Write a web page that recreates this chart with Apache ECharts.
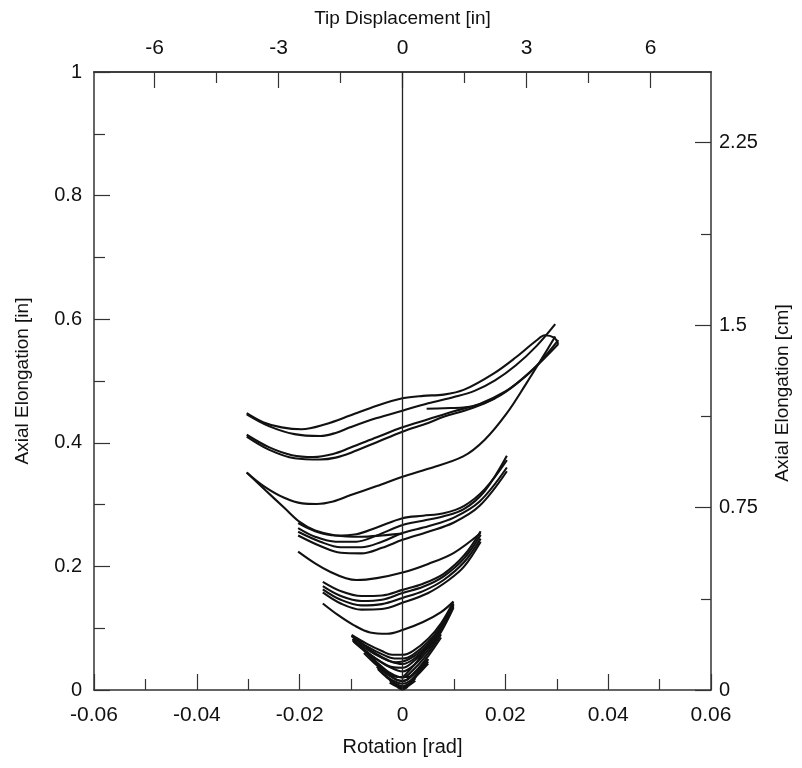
<!DOCTYPE html>
<html>
<head>
<meta charset="utf-8">
<script src="https://cdn.jsdelivr.net/npm/echarts@6/dist/echarts.min.js"></script>
<style>
  html, body { margin: 0; padding: 0; background: #fff; }
  #chart { width: 802px; height: 768px; }
</style>
</head>
<body>
<div id="chart"></div>
<script>
// Rotation [rad] vs axial elongation [in], one polyline per half-cycle, grouped by amplitude.
const loops030 = [
  [[-0.0303,0.448],[-0.027,0.433],[-0.0235,0.425],[-0.0196,0.422],[-0.015,0.430],[-0.0102,0.444],[-0.005,0.460],[0,0.472],[0.004,0.476],[0.008,0.478],[0.012,0.486],[0.0177,0.512],[0.022,0.538],[0.0261,0.566],[0.0277,0.574],[0.0295,0.570],[0.0303,0.560]],
  [[-0.0303,0.446],[-0.026,0.427],[-0.021,0.414],[-0.016,0.411],[-0.013,0.416],[-0.0102,0.425],[-0.005,0.440],[0,0.452],[0.005,0.464],[0.010,0.474],[0.014,0.484],[0.018,0.501],[0.022,0.525],[0.026,0.556],[0.0297,0.592]],
  [[-0.0303,0.413],[-0.026,0.393],[-0.0215,0.380],[-0.0173,0.377],[-0.0135,0.382],[-0.0102,0.392],[-0.005,0.409],[0,0.425],[0.005,0.438],[0.010,0.451],[0.015,0.463],[0.020,0.483],[0.024,0.508],[0.027,0.533],[0.0303,0.566]],
  [[-0.0303,0.410],[-0.026,0.389],[-0.021,0.375],[-0.016,0.373],[-0.013,0.376],[-0.010,0.384],[-0.005,0.401],[0,0.418],[0.005,0.432],[0.008,0.442],[0.012,0.452],[0.016,0.464],[0.020,0.482],[0.025,0.516],[0.0303,0.560]],
  [[0.0047,0.455],[0.008,0.456],[0.0118,0.457],[0.015,0.462],[0.018,0.472]],
  [[-0.0303,0.352],[-0.027,0.330],[-0.023,0.311],[-0.0195,0.302],[-0.0167,0.301],[-0.0135,0.305],[-0.0102,0.315],[-0.005,0.330],[0,0.345],[0.005,0.358],[0.0118,0.378],[0.016,0.405],[0.0203,0.448],[0.024,0.495],[0.027,0.535],[0.0297,0.572]],
  [[-0.0303,0.352],[-0.0265,0.322],[-0.023,0.295],[-0.020,0.272],[-0.017,0.258],[-0.013,0.250],[-0.008,0.248],[-0.004,0.250],[0,0.253]]
];

const loops020 = [
  [[-0.0203,0.270],[-0.017,0.257],[-0.013,0.250],[-0.009,0.252],[-0.005,0.263],[0,0.278],[0.004,0.282],[0.008,0.286],[0.012,0.298],[0.016,0.325],[0.0203,0.372]],
  [[-0.0203,0.262],[-0.017,0.248],[-0.013,0.240],[-0.009,0.240],[-0.005,0.250],[0,0.267],[0.004,0.274],[0.008,0.281],[0.012,0.293],[0.016,0.322],[0.0203,0.379]],
  [[-0.0203,0.256],[-0.016,0.240],[-0.012,0.231],[-0.008,0.231],[-0.004,0.240],[0,0.254],[0.005,0.265],[0.010,0.279],[0.015,0.305],[0.0203,0.360]],
  [[-0.0203,0.250],[-0.016,0.233],[-0.012,0.222],[-0.008,0.221],[-0.004,0.230],[0,0.243],[0.005,0.256],[0.010,0.271],[0.015,0.298],[0.0203,0.354]],
  [[-0.0203,0.224],[-0.017,0.205],[-0.014,0.191],[-0.011,0.181],[-0.0089,0.178],[-0.005,0.181],[0,0.190],[0.005,0.204],[0.010,0.222],[0.0152,0.254]]
];

const loops015 = [
  [[-0.0155,0.175],[-0.012,0.160],[-0.008,0.152],[-0.004,0.153],[0,0.162],[0.004,0.172],[0.008,0.188],[0.012,0.218],[0.0152,0.257]],
  [[-0.0155,0.168],[-0.012,0.152],[-0.008,0.144],[-0.004,0.146],[0,0.157],[0.004,0.167],[0.008,0.184],[0.012,0.213],[0.0152,0.251]],
  [[-0.0155,0.163],[-0.012,0.146],[-0.008,0.137],[-0.004,0.139],[0,0.149],[0.004,0.160],[0.008,0.178],[0.012,0.207],[0.0152,0.245]],
  [[-0.0155,0.158],[-0.012,0.140],[-0.008,0.130],[-0.004,0.131],[0,0.141],[0.005,0.157],[0.009,0.178],[0.012,0.200],[0.0152,0.240]],
  [[-0.0155,0.140],[-0.0125,0.121],[-0.0095,0.105],[-0.0063,0.093],[-0.003,0.091],[0,0.097],[0.004,0.110],[0.0075,0.126],[0.0099,0.143]]
];

const loops010 = [
  [[-0.0099,0.089],[-0.007,0.075],[-0.004,0.063],[-0.002,0.057],[0,0.057],[0.002,0.063],[0.005,0.083],[0.0075,0.108],[0.0099,0.143]],
  [[-0.0099,0.087],[-0.007,0.071],[-0.004,0.058],[-0.0015,0.051],[0,0.051],[0.002,0.057],[0.005,0.078],[0.0075,0.104],[0.0099,0.140]],
  [[-0.0099,0.088],[-0.0075,0.072],[-0.005,0.058],[-0.0025,0.047],[0,0.042],[0.0025,0.052],[0.005,0.072],[0.0075,0.101],[0.0099,0.139]],
  [[-0.0097,0.083],[-0.007,0.066],[-0.004,0.052],[-0.0015,0.045],[0,0.046],[0.0025,0.056],[0.005,0.074],[0.0075,0.100],[0.0099,0.137]],
  [[-0.0097,0.080],[-0.007,0.062],[-0.0045,0.047],[-0.002,0.037],[0,0.036],[0.0025,0.049],[0.005,0.069],[0.0075,0.097],[0.0099,0.135]],
  [[-0.0095,0.078],[-0.0075,0.064],[-0.005,0.050],[-0.0025,0.037],[0,0.030],[0.0025,0.042],[0.005,0.065],[0.0075,0.094],[0.0099,0.133]],
  [[-0.0097,0.082],[-0.007,0.060],[-0.005,0.043],[-0.003,0.029],[-0.001,0.021],[0.001,0.021],[0.003,0.033],[0.005,0.050]],
  [[0,0.020],[0.003,0.048],[0.006,0.085],[0.008,0.110],[0.0099,0.138]]
];

const loops005 = [
  [[-0.0075,0.065],[-0.005,0.045],[-0.0025,0.028],[0,0.020],[0.0025,0.036],[0.005,0.060],[0.0075,0.090]],
  [[-0.0075,0.060],[-0.005,0.040],[-0.0025,0.023],[0,0.014],[0.0025,0.030],[0.005,0.055],[0.0075,0.085]],
  [[-0.005,0.042],[-0.0035,0.030],[-0.002,0.021],[-0.001,0.016],[0,0.015],[0.001,0.017],[0.0025,0.028],[0.004,0.040],[0.005,0.050]],
  [[-0.005,0.038],[-0.0035,0.025],[-0.002,0.016],[0,0.010],[0.0015,0.015],[0.003,0.028],[0.005,0.046]],
  [[-0.0048,0.034],[-0.003,0.020],[-0.0015,0.011],[0,0.006],[0.0015,0.012],[0.003,0.025],[0.005,0.043]],
  [[-0.0025,0.016],[-0.0012,0.008],[0,0.004],[0.0012,0.009],[0.0025,0.019]],
  [[-0.0025,0.012],[-0.001,0.005],[0,0.002],[0.001,0.006],[0.0025,0.015]],
  [[-0.001,0.005],[0,0.001],[0.001,0.005]]
];

// Secondary scales: tip displacement (in) = rotation x arm length; 1 in = 2.54 cm
const armLength = 124.4;
const inToCm = 2.54;
const rotationRange = [-0.06, 0.06];
const elongationRange = [0, 1];
const tipMajorTicks = [-6, -3, 0, 3, 6];
const tipMinorTicks = [-4.5, -1.5, 1.5, 4.5];
const cmMajorTicks = [0, 0.75, 1.5, 2.25];
const cmMinorTicks = [0.375, 1.125, 1.875];

const FONT = "'Liberation Sans', Arial, sans-serif";
const INK = '#111';
const FRAME = '#333';
const hLabel = { color: INK, fontSize: 21, fontFamily: FONT };
const vLabel = { color: INK, fontSize: 20, fontFamily: FONT };
const vName = { color: INK, fontSize: 19, fontFamily: FONT };
const frameLine = { show: true, onZero: false, lineStyle: { color: FRAME, width: 1.5 } };
const tickLine = { color: FRAME, width: 1.2 };

const allLoops = [].concat(loops030, loops020, loops015, loops010, loops005);
const series = allLoops.map(pts => ({
  type: 'line',
  data: pts,
  smooth: 0.35,
  showSymbol: false,
  silent: true,
  animation: false,
  lineStyle: { color: INK, width: 2.1 }
}));
// zero-rotation reference line
series.push({
  type: 'line',
  data: [],
  silent: true,
  animation: false,
  markLine: {
    silent: true,
    symbol: 'none',
    label: { show: false },
    lineStyle: { color: '#222', width: 1.3, type: 'solid' },
    data: [{ xAxis: 0 }]
  }
});

const fmt = v => String(Math.round(v * 1000) / 1000);
const tipMax = rotationRange[1] * armLength;

const option = {
  backgroundColor: '#fff',
  animation: false,
  grid: { left: 94, top: 72, width: 617, height: 618, containLabel: false },
  xAxis: [
    {
      type: 'value', position: 'bottom', gridIndex: 0,
      min: rotationRange[0], max: rotationRange[1], interval: 0.02,
      axisLine: frameLine,
      axisTick: { show: true, inside: true, length: 16, lineStyle: tickLine },
      minorTick: { show: true, splitNumber: 2, length: 11, lineStyle: tickLine },
      splitLine: { show: false }, minorSplitLine: { show: false },
      axisLabel: Object.assign({ margin: 15, formatter: fmt, showMinLabel: true, showMaxLabel: true }, hLabel),
      name: 'Rotation [rad]', nameLocation: 'middle', nameGap: 47,
      nameTextStyle: { color: INK, fontSize: 20, fontFamily: FONT }
    },
    {
      // minor ticks of the tip displacement scale
      type: 'value', position: 'top', gridIndex: 0, offset: 0,
      min: -tipMax, max: tipMax,
      axisLine: { show: true, onZero: false, lineStyle: { color: FRAME, width: 1.5 } },
      axisTick: { show: true, inside: true, length: 11, lineStyle: tickLine, customValues: tipMinorTicks },
      splitLine: { show: false },
      axisLabel: { show: false }
    },
    {
      type: 'value', position: 'top', gridIndex: 0, offset: 0,
      min: -tipMax, max: tipMax,
      axisLine: frameLine,
      axisTick: { show: true, inside: true, length: 16, lineStyle: tickLine, customValues: tipMajorTicks },
      splitLine: { show: false },
      axisLabel: Object.assign({ margin: 13, formatter: fmt, customValues: tipMajorTicks }, hLabel),
      name: 'Tip Displacement [in]', nameLocation: 'middle', nameGap: 44,
      nameTextStyle: { color: INK, fontSize: 19, fontFamily: FONT }
    }
  ],
  yAxis: [
    {
      type: 'value', position: 'left',
      min: elongationRange[0], max: elongationRange[1], interval: 0.2,
      axisLine: frameLine,
      axisTick: { show: true, inside: true, length: 16, lineStyle: tickLine },
      minorTick: { show: true, splitNumber: 2, length: 11, lineStyle: tickLine },
      splitLine: { show: false }, minorSplitLine: { show: false },
      axisLabel: Object.assign({ margin: 12, formatter: fmt, showMinLabel: true, showMaxLabel: true }, vLabel),
      name: 'Axial Elongation [in]', nameLocation: 'middle', nameGap: 62, nameTextStyle: vName
    },
    {
      type: 'value', position: 'right',
      min: elongationRange[0] * inToCm, max: elongationRange[1] * inToCm,
      axisLine: frameLine,
      axisTick: { show: true, inside: true, length: 16, lineStyle: tickLine, customValues: cmMajorTicks },
      splitLine: { show: false },
      axisLabel: Object.assign({ margin: 8, formatter: fmt, customValues: cmMajorTicks }, vLabel),
      name: 'Axial Elongation [cm]', nameLocation: 'middle', nameGap: 62,
      nameTextStyle: Object.assign({ padding: [0, 24, 0, 0] }, vName)
    },
    {
      type: 'value', position: 'right',
      min: elongationRange[0] * inToCm, max: elongationRange[1] * inToCm,
      axisLine: { show: false, onZero: false },
      axisTick: { show: true, inside: true, length: 10, lineStyle: tickLine, customValues: cmMinorTicks },
      splitLine: { show: false },
      axisLabel: { show: false }
    }
  ],
  series: series
};

const chart = echarts.init(document.getElementById('chart'), null, { renderer: 'canvas' });
chart.setOption(option);
</script>
</body>
</html>
